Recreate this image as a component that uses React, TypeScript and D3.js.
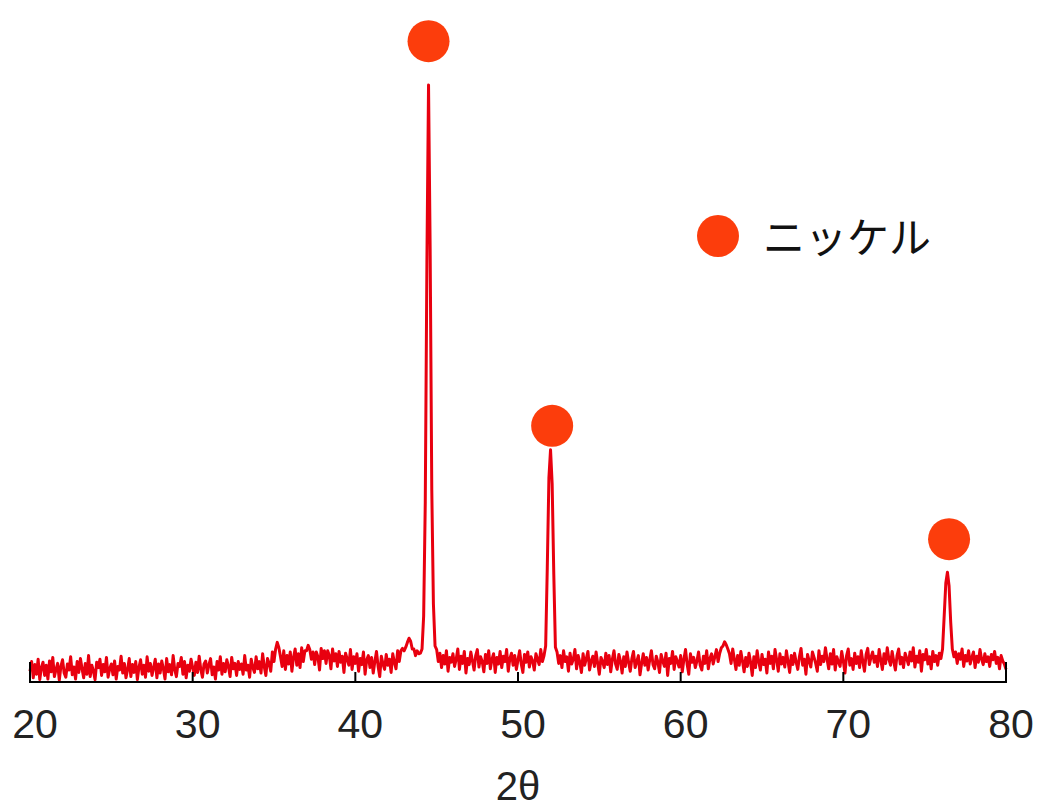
import React from "react";
import * as d3 from "d3";

// X-ray diffraction pattern (2θ from 20° to 80°, step 0.1°), intensity in arbitrary units
const twoThetaStart = 20;
const twoThetaStep = 0.1;
const intensity: number[] = [
  18, 34, 7, 29, 13, 38, 4, 24, 33, 11, // 20
  28, 5, 35, 17, 41, 9, 21, 31, 3, 26, // 21
  37, 15, 8, 30, 20, 42, 12, 25, 5, 34, // 22
  16, 39, 22, 7, 31, 13, 44, 9, 28, 18, // 23
  4, 33, 24, 38, 11, 29, 17, 41, 8, 22, // 24
  30, 12, 35, 5, 26, 20, 43, 15, 31, 7, // 25
  21, 39, 9, 29, 16, 34, 4, 25, 37, 13, // 26
  28, 8, 42, 18, 31, 11, 24, 38, 7, 30, // 27
  15, 35, 22, 5, 39, 17, 29, 12, 44, 20, // 28
  9, 31, 26, 41, 13, 34, 7, 28, 18, 38, // 29
  24, 11, 33, 16, 43, 21, 8, 30, 35, 15, // 30
  29, 39, 12, 25, 5, 34, 20, 42, 13, 31, // 31
  17, 37, 26, 9, 41, 22, 31, 11, 34, 21, // 32
  30, 13, 44, 20, 28, 8, 38, 24, 16, 42, // 33
  22, 34, 15, 47, 26, 11, 39, 31, 18, 50, // 34
  34, 55, 66, 57, 42, 26, 52, 21, 44, 30, // 35
  50, 18, 41, 55, 28, 47, 24, 57, 34, 52, // 36
  52, 61, 54, 38, 50, 29, 50, 42, 20, 56, // 37
  39, 52, 31, 52, 44, 22, 55, 35, 47, 26, // 38
  51, 33, 43, 16, 48, 38, 28, 54, 21, 42, // 39
  31, 47, 18, 39, 29, 50, 13, 37, 44, 24, // 40
  41, 15, 34, 51, 26, 9, 43, 30, 21, 46, // 41
  28, 38, 16, 47, 33, 22, 52, 34, 52, 56, // 42
  52, 58, 66, 73, 68, 55, 55, 44, 52, 47, // 43
  48, 55, 110, 300, 700, 995, 720, 320, 130, 60, // 44
  54, 34, 48, 24, 44, 30, 52, 18, 41, 33, // 45
  47, 26, 38, 55, 21, 43, 31, 51, 15, 39, // 46
  29, 50, 35, 20, 44, 54, 25, 42, 34, 17, // 47
  46, 31, 52, 22, 38, 47, 16, 41, 30, 51, // 48
  24, 43, 34, 54, 18, 39, 48, 28, 44, 21, // 49
  37, 52, 30, 16, 46, 33, 50, 25, 42, 35, // 50
  20, 47, 38, 29, 54, 34, 44, 60, 190, 340, // 51
  387, 330, 180, 58, 50, 31, 44, 24, 52, 34, // 52
  42, 18, 48, 30, 38, 54, 22, 44, 33, 16, // 53
  47, 28, 39, 51, 20, 35, 43, 26, 50, 31, // 54
  13, 41, 34, 24, 48, 29, 44, 17, 38, 52, // 55
  30, 21, 46, 35, 15, 42, 26, 50, 33, 18, // 56
  39, 51, 24, 34, 44, 12, 31, 47, 28, 41, // 57
  20, 37, 52, 29, 22, 43, 33, 16, 46, 35, // 58
  26, 48, 11, 39, 31, 51, 21, 42, 34, 25, // 59
  44, 17, 38, 54, 29, 13, 47, 33, 41, 24, // 60
  35, 50, 28, 20, 43, 31, 52, 22, 39, 47, // 61
  30, 42, 54, 34, 48, 57, 60, 67, 62, 55, // 62
  47, 31, 55, 38, 21, 44, 28, 51, 35, 17, // 63
  41, 26, 48, 33, 11, 42, 24, 52, 34, 20, // 64
  46, 29, 38, 15, 50, 31, 43, 22, 54, 37, // 65
  18, 47, 30, 41, 25, 52, 34, 16, 44, 29, // 66
  48, 33, 21, 42, 56, 28, 38, 13, 46, 35, // 67
  25, 50, 41, 31, 18, 52, 29, 43, 34, 57, // 68
  38, 22, 47, 30, 54, 20, 42, 33, 26, 51, // 69
  35, 15, 44, 55, 28, 39, 21, 48, 31, 42, // 70
  24, 52, 34, 18, 46, 56, 29, 41, 50, 33, // 71
  43, 26, 54, 37, 21, 47, 31, 57, 38, 28, // 72
  51, 34, 20, 44, 55, 30, 41, 24, 48, 39, // 73
  29, 50, 35, 57, 25, 43, 33, 52, 18, 46, // 74
  37, 54, 30, 42, 22, 51, 34, 44, 28, 48, // 75
  39, 55, 110, 165, 183, 160, 100, 55, 42, 50, // 76
  31, 47, 38, 55, 26, 44, 35, 52, 30, 41, // 77
  50, 24, 43, 33, 54, 38, 29, 47, 34, 42, // 78
  26, 46, 37, 51, 31, 41, 22, 44, 35, 30, // 79
  21, // 80
];

// Nickel peak markers (2θ, marker level)
const markerTwoTheta = [44.5, 52.1, 76.5];
const markerLevel = [1068, 427, 238];

const xTicks = [20, 30, 40, 50, 60, 70, 80];
const xLabel = "2θ";
const legendLabel = "ニッケル";

export default function App() {
  const width = 1040;
  const height = 807;
  const x = d3.scaleLinear().domain([20, 80]).range([30, 1006]);
  const y = d3.scaleLinear().domain([0, 1000]).range([682, 82]);

  const points: [number, number][] = intensity.map((v, i) => [
    twoThetaStart + i * twoThetaStep,
    v,
  ]);
  const line = d3
    .line<[number, number]>()
    .x((d) => x(d[0]))
    .y((d) => y(d[1]));

  const axisY = y(0);
  const markerColor = "#fc3d0c";
  const lineColor = "#e8000f";

  return (
    <svg
      width={width}
      height={height}
      style={{ position: "absolute", left: 0, top: 0, display: "block", background: "#fff" }}
    >
      <path d={line(points) || ""} fill="none" stroke={lineColor} strokeWidth={3} strokeLinejoin="round" />

      {/* axis */}
      <path
        d={`M${x(20)},${axisY - 20}V${axisY}H${x(80)}V${axisY - 20}`}
        fill="none"
        stroke="#000"
        strokeWidth={2}
      />
      {xTicks.slice(1, -1).map((t) => (
        <line key={t} x1={x(t)} x2={x(t)} y1={axisY} y2={axisY - 10} stroke="#000" strokeWidth={2} />
      ))}
      {xTicks.map((t) => (
        <text
          key={t}
          x={x(t) + 5}
          y={738}
          textAnchor="middle"
          fontFamily="'Liberation Sans', Arial, sans-serif"
          fontSize={41}
          fill="#222"
        >
          {t}
        </text>
      ))}
      <text
        x={518}
        y={800}
        textAnchor="middle"
        fontFamily="'Liberation Sans', Arial, sans-serif"
        fontSize={40}
        fill="#222"
      >
        {xLabel}
      </text>

      {/* peak markers */}
      {markerTwoTheta.map((t, i) => (
        <circle key={t} cx={x(t)} cy={y(markerLevel[i])} r={21} fill={markerColor} />
      ))}

      {/* legend */}
      <circle cx={718} cy={236} r={21} fill={markerColor} />
      <text
        x={763}
        y={253}
        fontFamily="'Noto Sans CJK JP', sans-serif"
        fontSize={42}
        fill="#111"
      >
        {legendLabel}
      </text>
    </svg>
  );
}
